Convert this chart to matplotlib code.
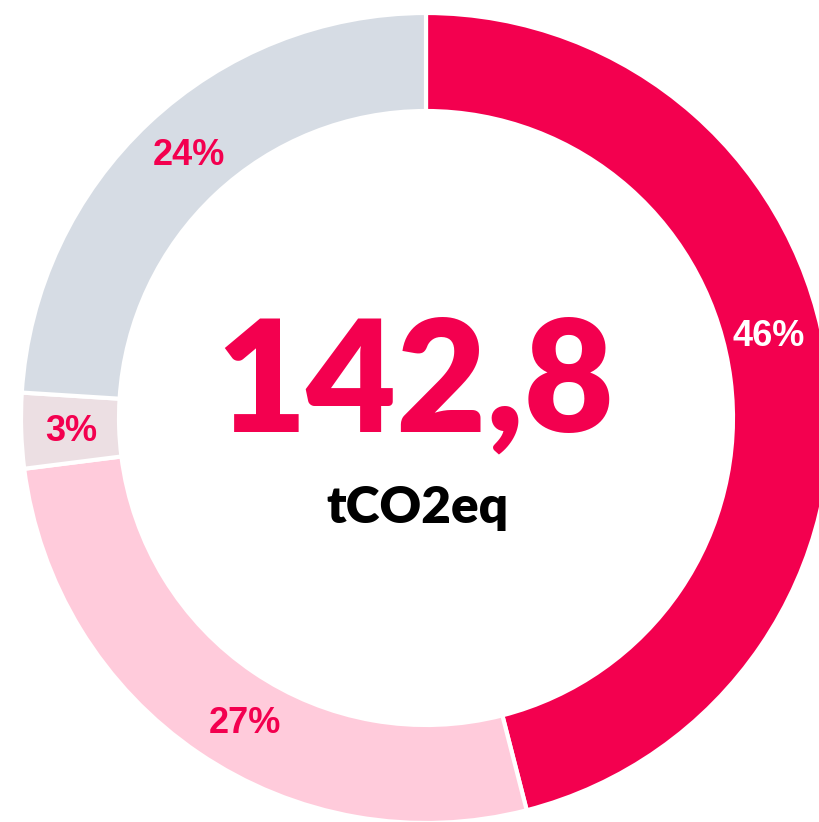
import matplotlib.pyplot as plt

# --- data ---
shares = [46, 27, 3, 24]
colors = ["#F3004F", "#FFCBDB", "#ECDFE3", "#D6DCE4"]
label_colors = ["white", "#F3004F", "#F3004F", "#F3004F"]
total = "142,8"
unit = "tCO2eq"

# small nudges so the labels sit where the original had them
label_nudge = [(-7, 37), (17, -14), (-3, -2), (4, 6)]

fig = plt.figure(figsize=(8.2, 8.22), dpi=100)
ax = fig.add_axes([0, 0, 1, 1])

# ring is slightly cropped at right/bottom in the original
cx, cy, r = 426, 404, 405
wedges, _, autotexts = ax.pie(
    shares, colors=colors, startangle=90, counterclock=False,
    center=(cx, cy), radius=r,
    wedgeprops=dict(width=r * 0.242, edgecolor="white", linewidth=3),
    autopct=lambda p: f"{p:.0f}%", pctdistance=0.87,
    textprops=dict(fontsize=26, fontweight="bold", family="Liberation Sans"),
)
for t, c, (dx, dy) in zip(autotexts, label_colors, label_nudge):
    t.set_color(c)
    x, y = t.get_position()
    t.set_position((x + dx, y + dy))

ax.text(cx - 11, 822 - 386, total, ha="center", va="center", fontsize=112,
        fontweight="heavy", family=["Lato", "DejaVu Sans"], color="#F3004F")
ax.text(cx - 8, 822 - 508, unit, ha="center", va="center", fontsize=37,
        fontweight="heavy", family=["Lato", "DejaVu Sans"], color="black")

ax.set_xlim(0, 820)
ax.set_ylim(0, 822)
ax.set_aspect("equal")
ax.axis("off")

fig.savefig("out.png", dpi=100)
